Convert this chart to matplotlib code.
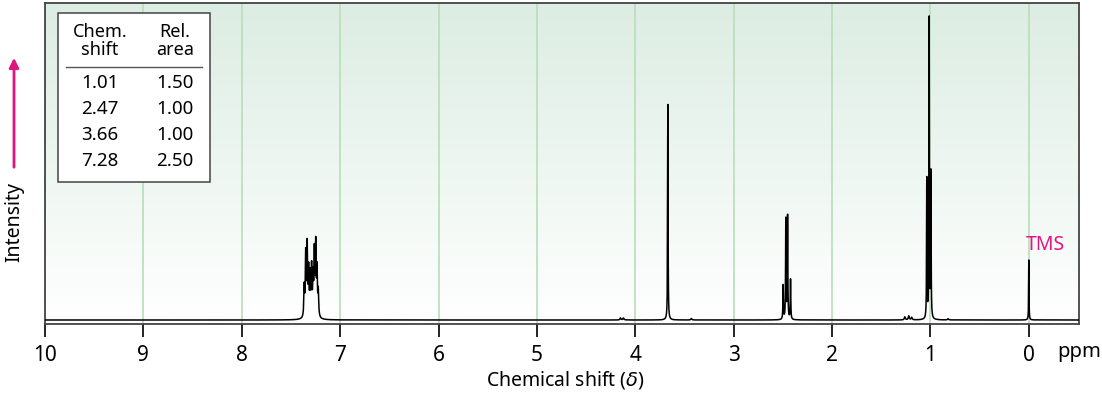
import numpy as np
import matplotlib
matplotlib.use("Agg")
import matplotlib.pyplot as plt
from matplotlib.patches import Rectangle, FancyArrowPatch

plt.rcParams['font.family'] = ['Noto Sans', 'DejaVu Sans']

# --- datos del espectro (ppm, altura en px sobre la linea base) ---
aro_ppm = [7.365, 7.350, 7.335, 7.320, 7.305, 7.290, 7.275, 7.262, 7.248, 7.235, 7.222]
aro_alt = [30, 62, 70, 45, 40, 48, 38, 62, 70, 45, 25]
cuart_ppm = [2.497, 2.470, 2.452, 2.422]
cuart_alt = [34, 100, 103, 40]
trip_ppm = [1.037, 1.013, 0.995]
trip_alt = [140, 300, 145]
sing_ppm = [3.669]
sing_alt = [216]
tms_ppm = [0.0]
tms_alt = [60]
imp_ppm = [4.15, 4.12, 3.43, 1.26, 1.22, 1.19, 0.82]
imp_alt = [2.0, 2.0, 1.5, 3.0, 4.0, 2.5, 1.2]

# tabla
tabla_shift = ["1.01", "2.47", "3.66", "7.28"]
tabla_area = ["1.50", "1.00", "1.00", "2.50"]

ticks = list(range(0, 11))

W, H = 1102, 396
fig = plt.figure(figsize=(W / 100, H / 100), dpi=100)

def fx(x):
    return x / W

def fy(y):
    return 1 - y / H

ax = fig.add_axes([fx(45), fy(324), fx(1079) - fx(45), fy(3) - fy(324)])

# --- espectro: suma de lorentzianas ---
x = np.linspace(-0.51, 10.0, 40000)
y = np.zeros_like(x)
grupos = [(aro_ppm, aro_alt, 0.0045), (cuart_ppm, cuart_alt, 0.0028),
          (trip_ppm, trip_alt, 0.0025), (sing_ppm, sing_alt, 0.0025),
          (tms_ppm, tms_alt, 0.0022), (imp_ppm, imp_alt, 0.006)]
for pos, alt, g in grupos:
    for p, a in zip(pos, alt):
        y += a * g**2 / ((x - p)**2 + g**2)

# fondo degradado verde -> blanco
grad = np.linspace(0, 1, 256).reshape(-1, 1)
top = np.array([220, 237, 227]) / 255
bot = np.array([255, 255, 255]) / 255
img = top + (bot - top) * grad
img = img.reshape(256, 1, 3)
ax.imshow(img, extent=[10.0, -0.51, -4, 317], aspect='auto', zorder=0)

for t in ticks:
    ax.axvline(t, color='#b9ddb9', lw=1.2, zorder=1)

ax.plot(x, y, color='black', lw=1.1, zorder=3)

ax.set_xlim(10.0, -0.51)
ax.set_ylim(-4, 317)
ax.set_xticks(ticks)
ax.set_xticklabels([str(t) for t in ticks], fontsize=15)
ax.set_yticks([])
ax.tick_params(axis='x', direction='out', length=9, width=1.2, pad=6)
for s in ax.spines.values():
    s.set_color('#444444')
    s.set_linewidth(1.3)

fig.text(fx(1057), fy(352), "ppm", fontsize=14.5, ha='left', va='center')
fig.text(fx(565), fy(380), r"Chemical shift ($\delta$)", fontsize=14, ha='center', va='center')
fig.text(fx(14), fy(222), "Intensity", fontsize=14, rotation=90, ha='center', va='center')

mag = '#e0157f'
fig.patches.append(FancyArrowPatch((fx(14), fy(170)), (fx(14), fy(55)), transform=fig.transFigure,
                                   arrowstyle='-|>', mutation_scale=14, color=mag, lw=2))
fig.text(fx(1045), fy(245), "TMS", fontsize=14, color=mag, ha='center', va='center')

# --- tabla ---
fig.patches.append(Rectangle((fx(58), fy(182)), fx(210) - fx(58), fy(13) - fy(182),
                             transform=fig.transFigure, facecolor='white',
                             edgecolor='#444444', lw=1.1, zorder=5))
fig.lines.append(plt.Line2D([fx(66), fx(202)], [fy(67), fy(67)], transform=fig.transFigure,
                            color='#555555', lw=1.0, zorder=6))
fig.text(fx(100), fy(41), "Chem.\nshift", fontsize=13, ha='center', va='center',
         linespacing=1.0, zorder=6)
fig.text(fx(175), fy(41), "Rel.\narea", fontsize=13, ha='center', va='center',
         linespacing=1.0, zorder=6)
for i, (s, a) in enumerate(zip(tabla_shift, tabla_area)):
    yy = fy(83 + 26 * i)
    fig.text(fx(100), yy, s, fontsize=13.5, ha='center', va='center', zorder=6)
    fig.text(fx(175), yy, a, fontsize=13.5, ha='center', va='center', zorder=6)

fig.savefig("out.png", dpi=100)
